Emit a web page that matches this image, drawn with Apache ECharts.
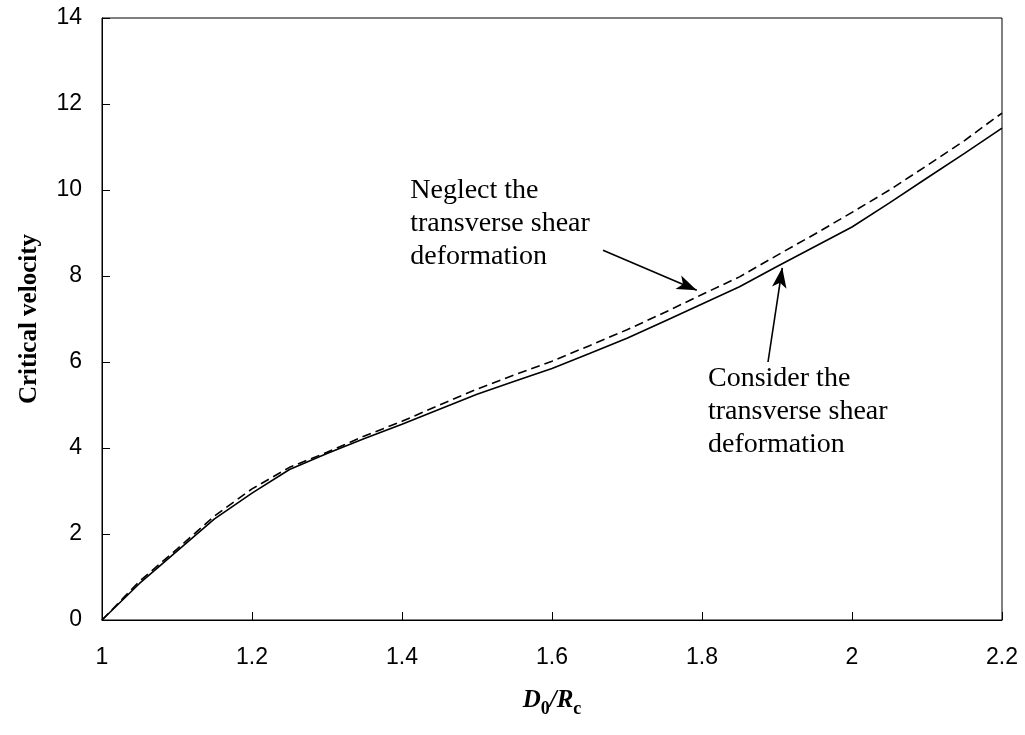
<!DOCTYPE html>
<html>
<head>
<meta charset="utf-8">
<script src="https://cdn.jsdelivr.net/npm/echarts@6/dist/echarts.min.js"></script>
<style>html,body{margin:0;padding:0;background:#fff}#c{width:1025px;height:735px}</style>
</head>
<body>
<div id="c"></div>
<script>
var xValues = [1.00,1.05,1.10,1.15,1.20,1.25,1.30,1.35,1.40,1.45,1.50,1.55,1.60,1.65,1.70,1.75,1.80,1.85,1.90,1.95,2.00,2.05,2.10,2.15,2.20];
var considerShear = [0,0.85,1.6,2.35,2.95,3.5,3.87,4.22,4.55,4.9,5.25,5.55,5.85,6.2,6.55,6.95,7.35,7.75,8.22,8.68,9.14,9.7,10.28,10.85,11.44];
var neglectShear = [0,0.9,1.65,2.42,3.05,3.55,3.9,4.28,4.62,5.0,5.37,5.7,6.02,6.38,6.75,7.15,7.57,7.98,8.48,8.97,9.48,10.0,10.57,11.15,11.79];
var xTicks = [1, 1.2, 1.4, 1.6, 1.8, 2, 2.2];
var yTicks = [0, 2, 4, 6, 8, 10, 12, 14];
var neglectLabel = ['Neglect the', 'transverse shear', 'deformation'];
var considerLabel = ['Consider the', 'transverse shear', 'deformation'];
var neglectArrow = [[1.668, 8.6], [1.793, 7.67]];
var considerArrow = [[1.888, 6.0], [1.907, 8.19]];
var neglectTextAt = [1.411, 10.38];
var considerTextAt = [1.808, 6.0];

function pairs(xs, ys){ return xs.map(function(x,i){ return [x, ys[i]]; }); }

var chart = echarts.init(document.getElementById('c'), null, {renderer:'canvas'});
var axisFont = {fontFamily:'Liberation Sans, Arial, sans-serif', fontSize:23, color:'#000'};
var option = {
  animation:false,
  backgroundColor:'#fff',
  grid:{left:102, top:18, right:23, bottom:115, show:true, borderColor:'#000', borderWidth:1, backgroundColor:'transparent'},
  xAxis:{
    type:'value', min:1, max:2.2, interval:0.2,
    name:'{i|D}{s|0}{i|/R}{s|c}', nameLocation:'middle', nameGap:68,
    nameTextStyle:{rich:{
      i:{fontFamily:'Liberation Serif, Times New Roman, serif', fontSize:25, fontWeight:'bold', fontStyle:'italic', color:'#000', lineHeight:30, verticalAlign:'top'},
      s:{fontFamily:'Liberation Serif, Times New Roman, serif', fontSize:18, fontWeight:'bold', color:'#000', lineHeight:30, verticalAlign:'bottom', padding:[10,0,0,0]}
    }},
    axisLine:{show:true, lineStyle:{color:'#000', width:1}},
    axisTick:{show:true, inside:true, length:8, lineStyle:{color:'#000'}},
    splitLine:{show:false},
    axisLabel:Object.assign({margin:26, formatter:function(v){ return xTicks.indexOf(Math.round(v*10)/10) >= 0 ? String(Math.round(v*10)/10) : ''; }}, axisFont)
  },
  yAxis:{
    type:'value', min:0, max:14, interval:2,
    name:'Critical velocity', nameLocation:'middle', nameGap:60, nameRotate:90,
    nameTextStyle:{fontFamily:'Liberation Serif, Times New Roman, serif', fontSize:25, fontWeight:'bold', color:'#000'},
    axisLine:{show:true, lineStyle:{color:'#000', width:1}},
    axisTick:{show:true, inside:true, length:8, lineStyle:{color:'#000'}},
    splitLine:{show:false},
    axisLabel:Object.assign({margin:20, formatter:function(v){ return yTicks.indexOf(v) >= 0 ? String(v) : ''; }}, axisFont)
  },
  series:[
    {name:'Consider', type:'line', data:pairs(xValues, considerShear), showSymbol:false, symbol:'none',
     lineStyle:{color:'#000', width:1.6, type:'solid'},
     markLine:{silent:true, symbol:['none','arrow'], symbolSize:[11,20], label:{show:false},
       lineStyle:{color:'#000', width:1.6, type:'solid'},
       data:[[{coord:neglectArrow[0]},{coord:neglectArrow[1]}],[{coord:considerArrow[0]},{coord:considerArrow[1]}]]}},
    {name:'Neglect', type:'line', data:pairs(xValues, neglectShear), showSymbol:false, symbol:'none',
     lineStyle:{color:'#000', width:1.6, type:[9,5]}}
  ]
};
chart.setOption(option);

function textBlock(lines, at){
  var p = chart.convertToPixel({gridIndex:0}, at);
  return {type:'text', left:p[0], top:p[1], silent:true,
    style:{text:lines.join('\n'), font:'28px "Liberation Serif", "Times New Roman", serif', fill:'#000', lineHeight:33}};
}
chart.setOption({graphic:[textBlock(neglectLabel, neglectTextAt), textBlock(considerLabel, considerTextAt)]});
</script>
</body>
</html>
